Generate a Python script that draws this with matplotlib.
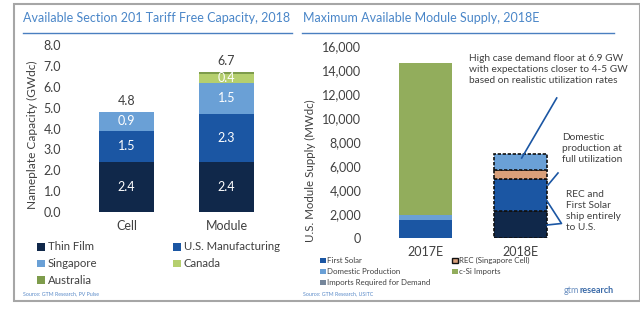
import matplotlib
matplotlib.use("Agg")
import matplotlib.pyplot as plt
from matplotlib.patches import Rectangle
from matplotlib.lines import Line2D
from matplotlib.ticker import FuncFormatter

plt.rcParams['font.family'] = ['Lato', 'DejaVu Sans']

# ---------------- data ----------------
left_categories = ['Cell', 'Module']
thin_film = [2.4, 2.4]
us_manufacturing = [1.5, 2.3]
singapore = [0.9, 1.5]
canada = [0.0, 0.4]
australia = [0.0, 0.1]
left_totals = [4.8, 6.7]
left_yticks = [0, 1, 2, 3, 4, 5, 6, 7, 8]

right_categories = ['2017E', '2018E']
first_solar = [1500, 2250]
domestic_production = [400, 2650]
rec_singapore = [0, 750]
imports_required = [0, 1350]
csi_imports = [12700, 0]
right_yticks = [0, 2000, 4000, 6000, 8000, 10000, 12000, 14000, 16000]

W, H = 640, 325
fig = plt.figure(figsize=(6.4, 3.25), dpi=100)

def fx(px):
    return px / W

def fy(py):
    return 1 - py / H

TXT = '#404040'
TITLE = '#4a86c8'

# frame
fig.add_artist(Rectangle((fx(14), fy(300.5)), fx(640) - fx(14), fy(4) - fy(300.5),
                         transform=fig.transFigure, fill=False, edgecolor='#a6a6a6', lw=1.5))

# titles + underlines
fig.text(fx(23), fy(18), 'Available Section 201 Tariff Free Capacity, 2018', color=TITLE,
         fontsize=9.0, va='center', ha='left')
fig.text(fx(303), fy(18), 'Maximum Available Module Supply, 2018E', color=TITLE,
         fontsize=9.0, va='center', ha='left')
fig.add_artist(Line2D([fx(23), fx(292)], [fy(33), fy(33)], transform=fig.transFigure,
                      color='#4a7fc0', lw=1))
fig.add_artist(Line2D([fx(302), fx(614)], [fy(33), fy(33)], transform=fig.transFigure,
                      color='#4a7fc0', lw=1))

# ---------------- left chart ----------------
axL = fig.add_axes([fx(76.5), fy(212), fx(276.5) - fx(76.5), fy(45) - fy(212)])
xl = list(range(len(left_categories)))
cols_L = ['#10284a', '#1b56a3', '#6aa0d6', '#b5cf6e', '#7e9c4c']
series_L = [thin_film, us_manufacturing, singapore, canada, australia]
bottom = [0.0] * len(xl)
for s, c in zip(series_L, cols_L):
    axL.bar(xl, s, 0.55, bottom=bottom, color=c, edgecolor='none')
    for i, v in enumerate(s):
        if v >= 0.3:
            axL.text(xl[i], bottom[i] + v / 2, f'{v:.1f}', color='white', ha='center',
                     va='center', fontsize=9)
    bottom = [b + v for b, v in zip(bottom, s)]
for i, t in enumerate(left_totals):
    axL.text(xl[i], t + 0.25, f'{t:.1f}', color=TXT, ha='center', va='bottom', fontsize=9)
axL.set_xlim(-0.5, 1.5)
axL.set_ylim(0, 8)
axL.set_yticks(left_yticks)
axL.yaxis.set_major_formatter(FuncFormatter(lambda v, p: f'{v:.1f}'))
axL.set_xticks(xl)
axL.set_xticklabels(left_categories)
axL.tick_params(length=0, labelsize=9, labelcolor=TXT)
axL.tick_params(axis='y', pad=11)
axL.tick_params(axis='x', pad=6)
for sp in axL.spines.values():
    sp.set_visible(False)
fig.text(fx(32), fy(135), 'Nameplate Capacity (GWdc)', rotation=90, ha='center', va='center',
         color=TXT, fontsize=8.6)

# left legend
leg_L = [('Thin Film', '#10284a', 37, 247), ('U.S. Manufacturing', '#1b56a3', 173, 247),
         ('Singapore', '#6aa0d6', 37, 263.5), ('Canada', '#b5cf6e', 173, 263.5),
         ('Australia', '#7e9c4c', 37, 280)]
for lab, c, x0, y0 in leg_L:
    fig.add_artist(Rectangle((fx(x0), fy(y0 + 3.7)), fx(8), 7.5 / H, transform=fig.transFigure,
                             facecolor=c, edgecolor='none'))
    fig.text(fx(x0 + 11), fy(y0), lab, color=TXT, fontsize=8.2, va='center', ha='left')

fig.text(fx(23), fy(294), 'Source: GTM Research, PV Pulse', color='#5a8ac8', fontsize=3.8,
         va='center')

# ---------------- right chart ----------------
axR = fig.add_axes([fx(378), fy(238), fx(568) - fx(378), fy(46) - fy(238)])
xr = list(range(len(right_categories)))
series_R = [first_solar, domestic_production, rec_singapore, imports_required, csi_imports]
cols_R = [['#1b56a3', '#10284a'], ['#6aa0d6', '#1b56a3'], ['#d9a07a', '#d9a07a'],
          ['#6aa0d6', '#6aa0d6'], ['#92ad5c', '#92ad5c']]
bottom = [0.0] * len(xr)
for s, c in zip(series_R, cols_R):
    for i, v in enumerate(s):
        if v <= 0:
            continue
        if i == 1:
            axR.bar(xr[i], v, 0.56, bottom=bottom[i], color=c[i], edgecolor='#111111',
                    linestyle=(0, (2, 1)), lw=1.2)
        else:
            axR.bar(xr[i], v, 0.56, bottom=bottom[i], color=c[i], edgecolor='none')
    bottom = [b + v for b, v in zip(bottom, s)]
axR.set_xlim(-0.5, 1.5)
axR.set_ylim(0, 16000)
axR.set_yticks(right_yticks)
axR.yaxis.set_major_formatter(FuncFormatter(lambda v, p: f'{int(v):,}'))
axR.set_xticks(xr)
axR.set_xticklabels(right_categories)
axR.tick_params(length=0, labelsize=9, labelcolor=TXT)
axR.tick_params(axis='y', pad=12)
axR.tick_params(axis='x', pad=6)
for sp in axR.spines.values():
    sp.set_visible(False)
fig.text(fx(310), fy(171), 'U.S. Module Supply (MWdc)', rotation=90, ha='center', va='center',
         color=TXT, fontsize=8.3)

# annotations
ANN = '#1b56a3'
fig.text(fx(469), fy(54), 'High case demand floor at 6.9 GW\nwith expectations closer to 4-5 GW\nbased on realistic utilization rates',
         color=TXT, fontsize=7.25, va='top', ha='left', linespacing=1.3)
fig.add_artist(Line2D([fx(556.7), fx(521.7)], [fy(98), fy(158)], transform=fig.transFigure,
                      color=ANN, lw=1.2))
fig.text(fx(562), fy(133), 'Domestic\nproduction at\nfull utilization',
         color=TXT, fontsize=7.25, va='top', ha='left', linespacing=1.3)
fig.add_artist(Line2D([fx(558), fx(548)], [fy(173), fy(185)], transform=fig.transFigure,
                      color=ANN, lw=1.2))
fig.text(fx(566), fy(190), 'REC and\nFirst Solar\nship entirely\nto U.S.',
         color=TXT, fontsize=7.25, va='top', ha='left', linespacing=1.3)
fig.add_artist(Line2D([fx(547), fx(561.5), fx(547)], [fy(201), fy(223.5), fy(225)],
                      transform=fig.transFigure, color=ANN, lw=1.2))

# right legend
leg_R = [('First Solar', '#1b56a3', 320, 260.5), ('REC (Singapore Cell)', '#d9a07a', 452, 260.5),
         ('Domestic Production', '#6aa0d6', 320, 271.5), ('c-Si Imports', '#92ad5c', 452, 271.5),
         ('Imports Required for Demand', '#75869a', 320, 282.5)]
for lab, c, x0, y0 in leg_R:
    ec = '#111111' if 'REC' in lab else 'none'
    fig.add_artist(Rectangle((fx(x0), fy(y0 + 2.7)), fx(5.5), 5.5 / H, transform=fig.transFigure,
                             facecolor=c, edgecolor=ec, lw=1))
    fig.text(fx(x0 + 7), fy(y0), lab, color=TXT, fontsize=5.7, va='center', ha='left')

fig.text(fx(303), fy(294), 'Source: GTM Research, USITC', color='#5a8ac8', fontsize=3.8,
         va='center')
fig.text(fx(564), fy(290.5), 'gtm', color='#6a8fc0', fontsize=6.5, va='center', ha='left')
fig.text(fx(579.5), fy(290.5), 'research', color='#3a6aa8', fontsize=6.5, va='center', ha='left',
         fontweight='bold')

fig.savefig('out.png', dpi=100)
